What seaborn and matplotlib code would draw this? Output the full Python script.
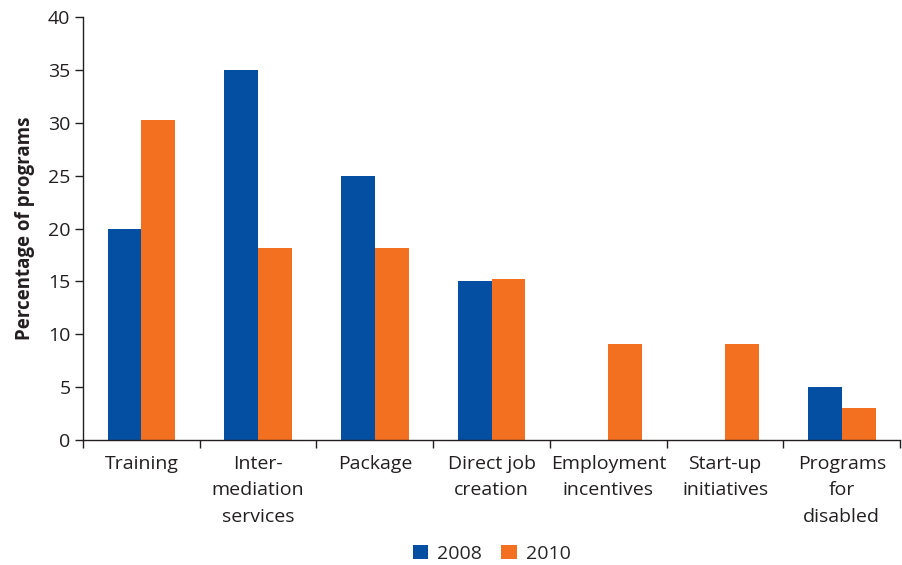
import matplotlib
matplotlib.use("Agg")
import matplotlib.pyplot as plt
import seaborn as sns
import pandas as pd
from matplotlib.patches import Patch
from matplotlib.ticker import FixedLocator

categories = ["Training", "Inter-\nmediation\nservices", "Package", "Direct job\ncreation",
              "Employment\nincentives", "Start-up\ninitiatives", "Programs\nfor\ndisabled"]
years = ["2008", "2010"]
values_2008 = [20, 35, 25, 15, 0, 0, 5]
values_2010 = [30.3, 18.2, 18.2, 15.2, 9.1, 9.1, 3.0]
y_ticks = [0, 5, 10, 15, 20, 25, 30, 35, 40]

colors = {"2008": "#044FA2", "2010": "#F37021"}
text_color = "#231F20"

df = pd.DataFrame({
    "category": categories * 2,
    "year": ["2008"] * len(categories) + ["2010"] * len(categories),
    "value": values_2008 + values_2010,
})

sns.set_theme(style="white")
plt.rcParams["font.family"] = ["Open Sans", "DejaVu Sans"]

fig = plt.figure(figsize=(9.02, 5.65), dpi=100)
ax = fig.add_axes([0.092, 0.221, 0.906, 0.749])

sns.barplot(data=df, x="category", y="value", hue="year", order=categories,
            hue_order=years, palette=colors, width=0.58, gap=0, saturation=1,
            linewidth=0, legend=False, ax=ax)

ax.set_xlim(-0.5, len(categories) - 0.5)
ax.set_ylim(0, 40)
ax.set_yticks(y_ticks)
ax.set_yticklabels([str(t) for t in y_ticks], fontsize=14, color=text_color)
ax.tick_params(axis="y", direction="out", length=6, width=1, color=text_color,
               left=True, pad=3)
ax.tick_params(axis="x", which="major", length=0, pad=10.5)
ax.xaxis.set_minor_locator(FixedLocator([i - 0.5 for i in range(len(categories) + 1)]))
ax.tick_params(axis="x", which="minor", direction="out", length=6, width=1,
               color=text_color, bottom=True)
for lbl in ax.get_xticklabels():
    lbl.set_fontsize(14)
    lbl.set_linespacing(1.6)
    lbl.set_color(text_color)

ax.set_xlabel("")
ax.set_ylabel("Percentage of programs", fontsize=13.5, fontweight="bold",
              color=text_color, labelpad=9)

for side in ["top", "right"]:
    ax.spines[side].set_visible(False)
for side in ["left", "bottom"]:
    ax.spines[side].set_color(text_color)
    ax.spines[side].set_linewidth(1)

handles = [Patch(facecolor=colors[y], edgecolor="none", label=y) for y in years]
fig.legend(handles=handles, loc="center", bbox_to_anchor=(0.545, 0.02), ncol=2,
           frameon=False, fontsize=14, handlelength=0.8, handleheight=0.8,
           handletextpad=0.45, columnspacing=1.0)

fig.savefig("out.png", dpi=100)
